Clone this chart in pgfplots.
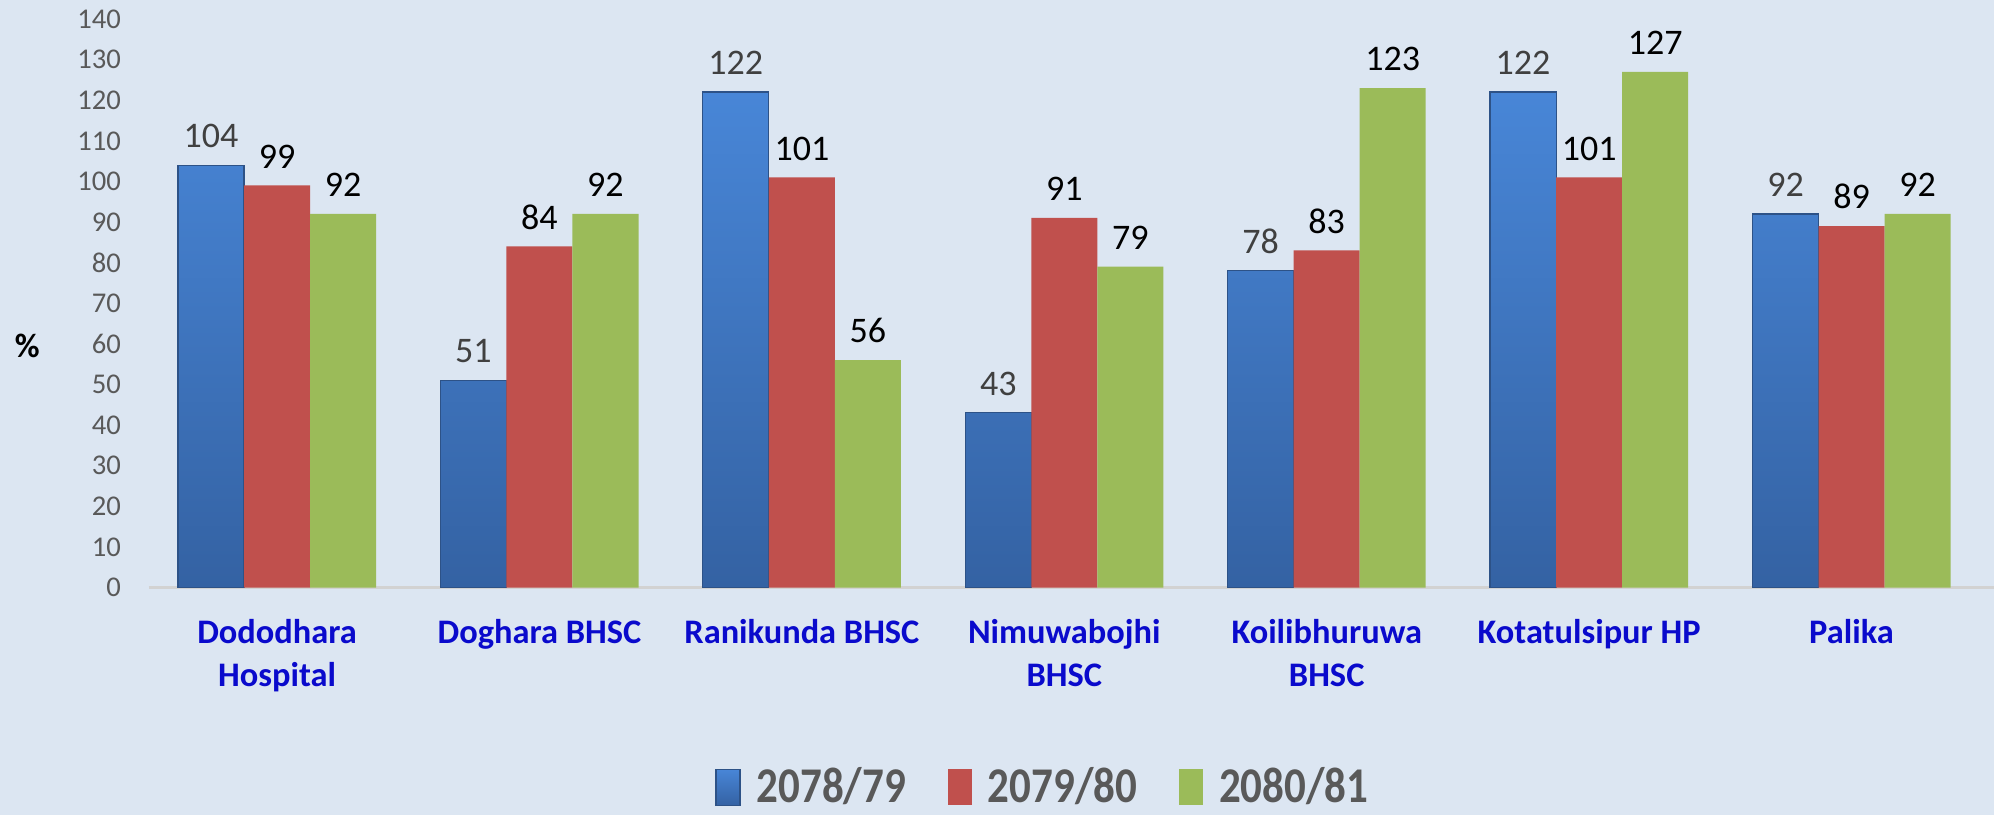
\documentclass[border=0pt]{standalone}
\usepackage{fontspec}
\setmainfont{Carlito}
\usepackage{pgfplots}
\pgfplotsset{compat=1.18}

\definecolor{bg}{RGB}{220,230,242}
\definecolor{redbar}{RGB}{192,80,77}
\definecolor{greenbar}{RGB}{155,187,89}
\definecolor{bluetop}{RGB}{72,134,215}
\definecolor{bluebot}{RGB}{52,98,163}
\definecolor{blueedge}{RGB}{45,82,135}
\definecolor{catblue}{RGB}{10,10,204}
\definecolor{txtgray}{RGB}{89,89,89}
\definecolor{lblgray}{RGB}{64,64,64}

\newcommand{\legtxt}[1]{\scalebox{0.86}[1]{#1}}

\begin{document}
\begin{tikzpicture}
\fill[bg] (-74.5bp,-113.75bp) rectangle (922.5bp,293.75bp);
\path[use as bounding box] (-74.5bp,-113.75bp) rectangle (922.5bp,293.75bp);
\begin{axis}[
    at={(0,0)}, anchor=south west,
    scale only axis,
    width=922.5bp, height=284.25bp,
    ybar, bar width=0.2516,
    xmin=-0.488, xmax=6.543,
    ymin=0, ymax=140,
    ytick={0,10,...,140},
    xtick={0,...,6},
    xticklabels={Dododhara\\Hospital, Doghara BHSC, Ranikunda BHSC,
                 Nimuwabojhi\\BHSC, Koilibhuruwa\\BHSC, Kotatulsipur HP, Palika},
    x tick label style={font=\fontsize{17.2bp}{21.5bp}\selectfont\bfseries,
                        text=catblue, align=center, yshift=-12.5bp},
    y tick label style={font=\fontsize{14.3bp}{16bp}\selectfont, text=txtgray,
                        xshift=-10.5bp},
    /pgf/number format/assume math mode=true,
    major tick length=0pt,
    axis lines=left,
    axis line style={-},
    y axis line style={draw=none},
    x axis line style={draw=gray!35, line width=1.2pt},
    ylabel={\%},
    y label style={at={(axis description cs:-0.066,0.425)}, rotate=-90,
                   anchor=center, font=\fontsize{17bp}{20bp}\selectfont\bfseries},
    nodes near coords,
    nodes near coords style={font=\fontsize{18bp}{20bp}\selectfont,
                             anchor=south, yshift=5bp},
    legend columns=3,
    legend style={at={(0.485,-0.350)}, anchor=center, draw=none, fill=none,
                  inner sep=1bp,
                  font=\fontsize{25bp}{28bp}\selectfont\bfseries, text=txtgray,
                  /tikz/every odd column/.append style={column sep=6bp},
                  /tikz/every even column/.append style={column sep=19bp}},
    legend image code/.code={\fill[#1] (0bp,-9.5bp) rectangle (12bp,8.5bp);},
]
\addplot[bar shift=-0.2516, shading=axis, top color=bluetop, bottom color=bluebot,
         draw=blueedge, line width=0.6pt,
         nodes near coords style={text=lblgray}] coordinates {
  (0,104) (1,51) (2,122) (3,43) (4,78) (5,122) (6,92)
};
\addplot[bar shift=0, fill=redbar, draw=none,
         nodes near coords style={text=black}] coordinates {
  (0,99) (1,84) (2,101) (3,91) (4,83) (5,101) (6,89)
};
\addplot[bar shift=0.2516, fill=greenbar, draw=none,
         nodes near coords style={text=black}] coordinates {
  (0,92) (1,92) (2,56) (3,79) (4,123) (5,127) (6,92)
};
\legend{\legtxt{2078/79}, \legtxt{2079/80}, \legtxt{2080/81}}
\end{axis}
\end{tikzpicture}
\end{document}
